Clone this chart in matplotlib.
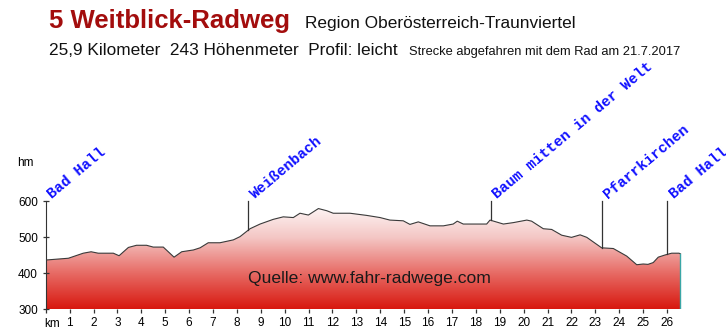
import numpy as np
import matplotlib
matplotlib.use('Agg')
import matplotlib.pyplot as plt
from matplotlib.colors import LinearSegmentedColormap

# profile: distance (km) / height (m)
km = [0, 0.95, 1.57, 1.9, 2.2, 2.83, 3.07, 3.46, 3.8, 4.22, 4.5, 4.92, 5.37, 5.69,
      6.18, 6.46, 6.8, 7.29, 7.85, 8.13, 8.55, 8.97, 9.52, 9.94, 10.36, 10.64,
      10.99, 11.41, 11.76, 12.03, 12.73, 13.43, 13.99, 14.4, 14.96, 15.24, 15.59,
      16.08, 16.64, 17.05, 17.22, 17.47, 18.17, 18.45, 18.59, 19.15, 19.57, 20.13,
      20.33, 20.82, 21.17, 21.59, 22.0, 22.36, 22.64, 23.26, 23.75, 24.31, 24.73,
      25.0, 25.2, 25.42, 25.63, 25.91, 26.19, 26.5, 26.56]
elev = [436, 441, 455, 459, 455, 455, 448, 471, 477, 477, 472, 472, 444, 459,
        464, 470, 484, 484, 492, 501, 523, 536, 549, 556, 554, 566,
        561, 579, 573, 566, 566, 560, 554, 547, 545, 535, 542,
        531, 531, 536, 544, 536, 536, 536, 547, 536, 540, 547,
        544, 523, 521, 505, 499, 506, 499, 470, 468, 447, 423,
        425, 424, 429, 444, 450, 455, 455, 453]

place_names = ['Bad Hall', 'Weißenbach', 'Baum mitten in der Welt', 'Pfarrkirchen', 'Bad Hall']
place_km = [0, 8.48, 18.62, 23.26, 26.0]

yticks = [300, 400, 500, 600]
xticks = list(range(1, 27))

W, H = 726, 330
fig = plt.figure(figsize=(W / 100, H / 100), dpi=100)
fig.patch.set_facecolor('white')


def px(x, y):
    return x / W, 1 - y / H


# axes placed so that km 0 sits at x=45.7px, 300 m at y=309px, 600 m at y=201px
ax = fig.add_axes([45.7 / W, 21 / H, 28 * 23.9 / W, 144 / H])
ax.set_xlim(0, 28)
ax.set_ylim(300, 700)
ax.patch.set_alpha(0)

# gradient fill under the profile
cmap = LinearSegmentedColormap.from_list('rw', [(0.0, '#d8180f'), (0.33, '#e76a64'),
                                                (0.66, '#f4c6c4'), (1.0, '#ffffff')])
grad = np.linspace(0, 1, 256).reshape(-1, 1)
img = ax.imshow(grad, extent=[0, km[-1], 300, 600], origin='lower', cmap=cmap,
                aspect='auto', zorder=1)
poly = ax.fill_between(km, elev, 300, color='none', lw=0)
img.set_clip_path(poly.get_paths()[0], transform=ax.transData)

ax.plot(km, elev, color='#3a3a3a', lw=0.8, zorder=3)
ax.plot([km[-1], km[-1]], [300, elev[-1]], color='#3aa6a6', lw=1, zorder=3)

# place markers
for name, k in zip(place_names, place_km):
    h = np.interp(k, km, elev)
    if k > 0:
        ax.plot([k, k], [h, 600], color='#333333', lw=0.9, zorder=3)
    ax.text(k + 0.35, 600, name, rotation=40, rotation_mode='anchor',
            ha='left', va='bottom', color='#1010ff', fontsize=10.6,
            family='Liberation Mono', fontweight='bold', clip_on=False)

ax.text(13.55, 386, 'Quelle: www.fahr-radwege.com', fontsize=12.6,
        family='Liberation Sans', color='#1a1a1a', ha='center', va='center', zorder=4)

for s in ['top', 'right', 'bottom']:
    ax.spines[s].set_visible(False)
ax.spines['left'].set_bounds(300, 600)
ax.spines['left'].set_color('#333333')

ax.set_yticks(yticks)
ax.set_yticklabels([str(v) for v in yticks], family='Liberation Sans', fontsize=8.5)
ax.tick_params(axis='y', direction='inout', length=5, width=0.9, pad=3, color='#333333')
ax.set_xticks([0] + xticks)
ax.set_xticklabels([''] + [str(v) for v in xticks], family='Liberation Sans', fontsize=8.5)
ax.tick_params(axis='x', direction='out', length=3, width=0.9, pad=3, color='#333333')
ax.annotate('km', xy=(0.27, 300), xycoords='data', xytext=(0, -6.2),
            textcoords='offset points', ha='center', va='top',
            family='Liberation Sans', fontsize=8.5)

fig.text(*px(25, 163), 'hm', ha='center', va='center', family='Liberation Sans', fontsize=8.5)

# header
fig.text(*px(49, 28), '5 Weitblick-Radweg', ha='left', va='baseline',
         family='Liberation Sans', fontweight='bold', fontsize=18.5, color='#a30d0d')
fig.text(*px(305, 28), 'Region Oberösterreich-Traunviertel', ha='left', va='baseline',
         family='Liberation Sans', fontsize=12.4, color='#111111')
fig.text(*px(49, 55), '25,9 Kilometer  243 Höhenmeter  Profil: leicht', ha='left',
         va='baseline', family='Liberation Sans', fontsize=12.4, color='#111111')
fig.text(*px(409, 55), 'Strecke abgefahren mit dem Rad am 21.7.2017', ha='left',
         va='baseline', family='Liberation Sans', fontsize=9.3, color='#111111')

fig.savefig('out.png', dpi=100)
